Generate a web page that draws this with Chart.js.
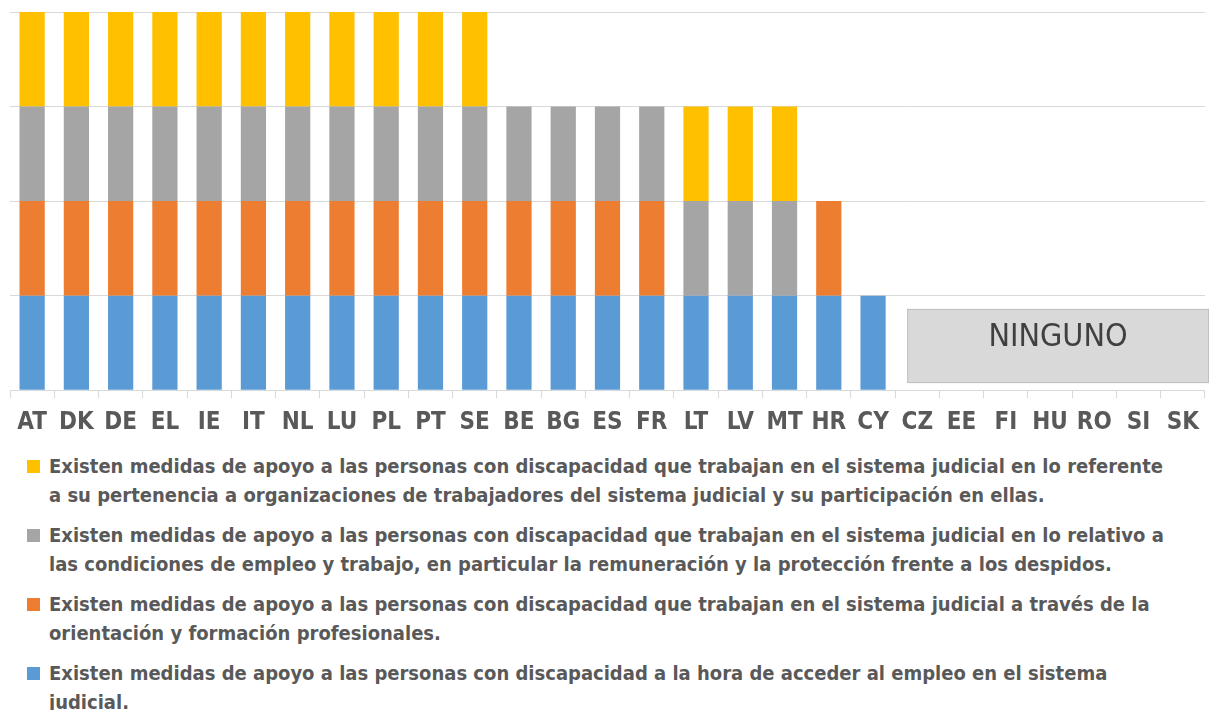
<!DOCTYPE html>
<html>
<head>
<meta charset="utf-8">
<script src="https://cdn.jsdelivr.net/npm/chart.js@4"></script>
<style>
  html, body { margin: 0; background: #fff; overflow: hidden; font-family: "DejaVu Sans Condensed", sans-serif; }
  #wrap { width: 1209px; height: 451px; position: relative; }
  #legend { margin-top: 1px; padding-left: 27px; color: #595959; font-weight: bold; font-size: 20px; }
  .item { position: relative; padding-left: 22px; line-height: 29px; margin-bottom: 11px; white-space: nowrap; }
  .item span.box { position: absolute; left: 0; top: 8px; width: 13px; height: 13px; }
</style>
</head>
<body>
<div id="wrap"><canvas id="myChart"></canvas></div>
<div id="legend"></div>
<script>
// categorias (paises)
const categories = ['AT','DK','DE','EL','IE','IT','NL','LU','PL','PT','SE','BE','BG','ES','FR','LT','LV','MT','HR','CY','CZ','EE','FI','HU','RO','SI','SK'];

// series (1 = existe la medida)
const acceso         = [1,1,1,1,1,1,1,1,1,1,1,1,1,1,1,1,1,1,1,1,0,0,0,0,0,0,0];
const formacion      = [1,1,1,1,1,1,1,1,1,1,1,1,1,1,1,0,0,0,1,0,0,0,0,0,0,0,0];
const condiciones    = [1,1,1,1,1,1,1,1,1,1,1,1,1,1,1,1,1,1,0,0,0,0,0,0,0,0,0];
const organizaciones = [1,1,1,1,1,1,1,1,1,1,1,0,0,0,0,1,1,1,0,0,0,0,0,0,0,0,0];

const labelAcceso = ['Existen medidas de apoyo a las personas con discapacidad a la hora de acceder al empleo en el sistema', 'judicial.'];
const labelFormacion = ['Existen medidas de apoyo a las personas con discapacidad que trabajan en el sistema judicial a través de la', 'orientación y formación profesionales.'];
const labelCondiciones = ['Existen medidas de apoyo a las personas con discapacidad que trabajan en el sistema judicial en lo relativo a', 'las condiciones de empleo y trabajo, en particular la remuneración y la protección frente a los despidos.'];
const labelOrganizaciones = ['Existen medidas de apoyo a las personas con discapacidad que trabajan en el sistema judicial en lo referente', 'a su pertenencia a organizaciones de trabajadores del sistema judicial y su participación en ellas.'];

const ningunoFrom = 'CZ';
const ningunoText = 'NINGUNO';
const fontFamily = '"DejaVu Sans Condensed", sans-serif';

// caja "NINGUNO"
const ningunoBox = {
    id: 'ningunoBox',
    afterDatasetsDraw(chart) {
        const { ctx, chartArea, scales: { x, y } } = chart;
        const idx = categories.indexOf(ningunoFrom);
        const step = x.getPixelForValue(1) - x.getPixelForValue(0);
        const left = x.getPixelForValue(idx) - step * 0.23;
        const right = chart.width;
        const top = y.getPixelForValue(0.86);
        const bottom = y.getPixelForValue(0.075);
        ctx.save();
        ctx.fillStyle = '#d9d9d9';
        ctx.fillRect(left, top, right - left, bottom - top);
        ctx.strokeStyle = '#a6a6a6';
        ctx.lineWidth = 1;
        ctx.setLineDash([1, 1]);
        ctx.strokeRect(left + 0.5, top + 0.5, right - left - 1, bottom - top - 1);
        ctx.fillStyle = '#404040';
        ctx.font = '32px ' + fontFamily;
        ctx.textAlign = 'center';
        ctx.textBaseline = 'middle';
        ctx.fillText(ningunoText, (left + right) / 2, (top + bottom) / 2 - 8);
        ctx.restore();
    }
};

const datasets = [
    { label: labelAcceso, data: acceso, backgroundColor: '#5b9bd5' },
    { label: labelFormacion, data: formacion, backgroundColor: '#ed7d31' },
    { label: labelCondiciones, data: condiciones, backgroundColor: '#a5a5a5' },
    { label: labelOrganizaciones, data: organizaciones, backgroundColor: '#ffc000' }
];

let ctx = document.getElementById('myChart').getContext('2d');
let chart = new Chart(ctx, {
    type: 'bar',
    data: { labels: categories, datasets: datasets },
    options: {
        responsive: true,
        maintainAspectRatio: false,
        animation: false,
        layout: { padding: { left: 10, top: 12, right: -3, bottom: 4 } },
        datasets: { bar: { categoryPercentage: 1, barPercentage: 0.57 } },
        plugins: { legend: { display: false }, tooltip: { enabled: false } },
        scales: {
            x: {
                stacked: true,
                border: { color: '#d9d9d9' },
                grid: { drawOnChartArea: false, drawTicks: true, tickLength: 8, color: '#d9d9d9', offset: true },
                ticks: { color: '#595959', padding: 10, font: { family: fontFamily, size: 24, weight: 'bold' }, maxRotation: 0, autoSkip: false }
            },
            y: {
                stacked: true,
                min: 0,
                max: 4,
                border: { display: false },
                grid: { color: '#d9d9d9', drawTicks: false },
                ticks: { display: false, stepSize: 1 }
            }
        }
    },
    plugins: [ningunoBox]
});

// leyenda en orden inverso (como el original)
let legend = document.getElementById('legend');
datasets.slice().reverse().forEach(function (ds) {
    let div = document.createElement('div');
    div.className = 'item';
    div.innerHTML = '<span class="box" style="background:' + ds.backgroundColor + '"></span>' + ds.label.join('<br>');
    legend.appendChild(div);
});
</script>
</body>
</html>
